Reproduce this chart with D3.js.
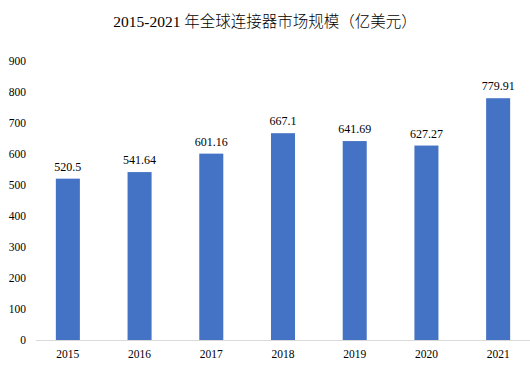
<!DOCTYPE html>
<html>
<head>
<meta charset="utf-8">
<script src="https://cdn.jsdelivr.net/npm/d3@7"></script>
<style>
  body { margin: 0; background: #fff; }
  text { font-family: "Liberation Serif", "Times New Roman", "Noto Sans CJK SC", serif; fill: #000; }
</style>
</head>
<body>
<div id="chart"></div>
<script>
const years = ['2015', '2016', '2017', '2018', '2019', '2020', '2021'];
const values = [520.5, 541.64, 601.16, 667.1, 641.69, 627.27, 779.91];
const yTicks = [0, 100, 200, 300, 400, 500, 600, 700, 800, 900];

const width = 530, height = 370;
const serif = '"Liberation Serif", "Times New Roman", "Noto Sans CJK SC", serif';

const svg = d3.select('#chart').append('svg')
  .attr('width', width)
  .attr('height', height);

// title
svg.append('text')
  .attr('x', 265)
  .attr('y', 27)
  .attr('text-anchor', 'middle')
  .style('font-size', '15.5px')
  .style('font-weight', '300')
  .text('2015-2021 年全球连接器市场规模（亿美元）');

const x = d3.scaleBand()
  .domain(years)
  .range([32, 534])
  .paddingInner(0.665)
  .paddingOuter(0.3325);

const y = d3.scaleLinear()
  .domain([0, 900])
  .range([340, 61]);

// y tick labels, no axis line
svg.append('g')
  .attr('transform', 'translate(26,0)')
  .call(d3.axisLeft(y).tickValues(yTicks).tickSize(0).tickPadding(0))
  .call(g => g.select('.domain').remove())
  .call(g => g.selectAll('text').style('font-size', '11.5px').style('font-family', serif).attr('fill', '#000'));

// bars
svg.append('g')
  .selectAll('rect')
  .data(values)
  .join('rect')
  .attr('x', (d, i) => x(years[i]))
  .attr('y', d => y(d))
  .attr('width', x.bandwidth())
  .attr('height', d => y(0) - y(d))
  .attr('fill', '#4472c4');

// value labels
svg.append('g')
  .selectAll('text')
  .data(values)
  .join('text')
  .attr('x', (d, i) => x(years[i]) + x.bandwidth() / 2)
  .attr('y', d => y(d) - 8)
  .attr('text-anchor', 'middle')
  .style('font-size', '12px')
  .text(d => d);

// x axis
svg.append('g')
  .attr('transform', `translate(0,${y(0)})`)
  .call(d3.axisBottom(x).tickSize(0).tickPadding(10))
  .call(g => g.select('.domain').attr('stroke', '#d9d9d9').attr('d', 'M36,0.5H530'))
  .call(g => g.selectAll('text').style('font-size', '11.5px').style('font-family', serif).attr('fill', '#000'));
</script>
</body>
</html>
